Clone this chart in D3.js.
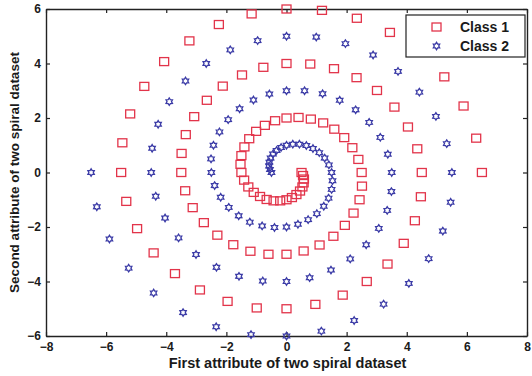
<!DOCTYPE html>
<html>
<head>
<meta charset="utf-8">
<script src="https://cdn.jsdelivr.net/npm/d3@7"></script>
<style>
  body { margin: 0; background: #fff; }
  text { font-family: "Liberation Sans", Arial, sans-serif; font-weight: bold; fill: #1a1a1a; }
</style>
</head>
<body>
<div class="chart"></div>
<script>
// two spiral dataset
var class1X = [6.50, 6.31, 5.89, 5.25, 4.42, 3.44, 2.34, 1.18,
  0.00, -1.16, -2.25, -3.23, -4.07, -4.73, -5.20, -5.46,
  -5.50, -5.33, -4.97, -4.42, -3.71, -2.88, -1.96, -0.99,
  0.00, 0.96, 1.87, 2.67, 3.36, 3.90, 4.27, 4.47,
  4.50, 4.35, 4.04, 3.59, 3.01, 2.33, 1.58, 0.79,
  0.00, -0.77, -1.48, -2.12, -2.65, -3.07, -3.35, -3.49,
  -3.50, -3.37, -3.12, -2.75, -2.30, -1.77, -1.20, -0.60,
  0.00, 0.57, 1.10, 1.56, 1.94, 2.23, 2.43, 2.51,
  2.50, 2.39, 2.19, 1.92, 1.59, 1.22, 0.81, 0.40,
  0.00, -0.38, -0.72, -1.01, -1.24, -1.40, -1.50, -1.53,
  -1.50, -1.41, -1.27, -1.09, -0.88, -0.66, -0.43, -0.21,
  0.00, 0.18, 0.33, 0.45, 0.53, 0.57, 0.58, 0.55,
  0.50];
var class1Y = [0.00, 1.26, 2.44, 3.51, 4.42, 5.14, 5.66, 5.95,
  6.00, 5.82, 5.43, 4.83, 4.07, 3.16, 2.15, 1.09,
  0.00, -1.06, -2.06, -2.95, -3.71, -4.31, -4.73, -4.97,
  -5.00, -4.84, -4.50, -4.00, -3.36, -2.60, -1.77, -0.89,
  0.00, 0.87, 1.67, 2.40, 3.01, 3.48, 3.81, 3.98,
  4.00, 3.86, 3.58, 3.17, 2.65, 2.05, 1.39, 0.70,
  0.00, -0.67, -1.29, -1.84, -2.30, -2.65, -2.89, -3.00,
  -3.00, -2.88, -2.66, -2.34, -1.94, -1.49, -1.00, -0.50,
  0.00, 0.48, 0.91, 1.28, 1.59, 1.82, 1.96, 2.02,
  2.00, 1.90, 1.73, 1.51, 1.24, 0.94, 0.62, 0.30,
  0.00, -0.28, -0.53, -0.73, -0.88, -0.99, -1.04, -1.04,
  -1.00, -0.92, -0.81, -0.68, -0.53, -0.38, -0.24, -0.11,
  0.00];
var class2X = [-6.50, -6.31, -5.89, -5.25, -4.42, -3.44, -2.34, -1.18,
  0.00, 1.16, 2.25, 3.23, 4.07, 4.73, 5.20, 5.46,
  5.50, 5.33, 4.97, 4.42, 3.71, 2.88, 1.96, 0.99,
  0.00, -0.96, -1.87, -2.67, -3.36, -3.90, -4.27, -4.47,
  -4.50, -4.35, -4.04, -3.59, -3.01, -2.33, -1.58, -0.79,
  0.00, 0.77, 1.48, 2.12, 2.65, 3.07, 3.35, 3.49,
  3.50, 3.37, 3.12, 2.75, 2.30, 1.77, 1.20, 0.60,
  0.00, -0.57, -1.10, -1.56, -1.94, -2.23, -2.43, -2.51,
  -2.50, -2.39, -2.19, -1.92, -1.59, -1.22, -0.81, -0.40,
  0.00, 0.38, 0.72, 1.01, 1.24, 1.40, 1.50, 1.53,
  1.50, 1.41, 1.27, 1.09, 0.88, 0.66, 0.43, 0.21,
  0.00, -0.18, -0.33, -0.45, -0.53, -0.57, -0.58, -0.55,
  -0.50];
var class2Y = [0.00, -1.26, -2.44, -3.51, -4.42, -5.14, -5.66, -5.95,
  -6.00, -5.82, -5.43, -4.83, -4.07, -3.16, -2.15, -1.09,
  0.00, 1.06, 2.06, 2.95, 3.71, 4.31, 4.73, 4.97,
  5.00, 4.84, 4.50, 4.00, 3.36, 2.60, 1.77, 0.89,
  0.00, -0.87, -1.67, -2.40, -3.01, -3.48, -3.81, -3.98,
  -4.00, -3.86, -3.58, -3.17, -2.65, -2.05, -1.39, -0.70,
  0.00, 0.67, 1.29, 1.84, 2.30, 2.65, 2.89, 3.00,
  3.00, 2.88, 2.66, 2.34, 1.94, 1.49, 1.00, 0.50,
  0.00, -0.48, -0.91, -1.28, -1.59, -1.82, -1.96, -2.02,
  -2.00, -1.90, -1.73, -1.51, -1.24, -0.94, -0.62, -0.30,
  0.00, 0.28, 0.53, 0.73, 0.88, 0.99, 1.04, 1.04,
  1.00, 0.92, 0.81, 0.68, 0.53, 0.38, 0.24, 0.11,
  0.00];

var xTicks = [-8, -6, -4, -2, 0, 2, 4, 6, 8];
var yTicks = [-6, -4, -2, 0, 2, 4, 6];
var seriesNames = ["Class 1", "Class 2"];

var svgWidth = 532;
var svgHeight = 376;
var margin = { top: 9, right: 5, bottom: 40, left: 46 };
var width = svgWidth - margin.left - margin.right;
var height = svgHeight - margin.top - margin.bottom;

var red = "#e2344a";
var blue = "#3a3aa6";

var svg = d3.select(".chart")
  .append("svg")
  .attr("width", svgWidth)
  .attr("height", svgHeight);

var chartGroup = svg.append("g")
  .attr("transform", `translate(${margin.left}, ${margin.top})`);

var xScale = d3.scaleLinear().domain([-8, 8]).range([0, width]);
var yScale = d3.scaleLinear().domain([-6, 6]).range([height, 0]);

// axes, matlab style box with inward ticks
function styleAxis(g) {
  g.selectAll("path").attr("stroke", "#222").attr("stroke-width", 1.4);
  g.selectAll("line").attr("stroke", "#222").attr("stroke-width", 1.2);
  g.selectAll("text").style("font-size", "12px").attr("fill", "#1a1a1a");
}

chartGroup.append("g")
  .attr("transform", `translate(0, ${height})`)
  .call(d3.axisBottom(xScale).tickValues(xTicks).tickSizeInner(-4).tickSizeOuter(0).tickPadding(6))
  .call(styleAxis);

chartGroup.append("g")
  .call(d3.axisTop(xScale).tickValues(xTicks).tickSizeInner(-4).tickSizeOuter(0).tickFormat(""))
  .call(styleAxis);

chartGroup.append("g")
  .call(d3.axisLeft(yScale).tickValues(yTicks).tickSizeInner(-4).tickSizeOuter(0).tickPadding(5))
  .call(styleAxis);

chartGroup.append("g")
  .attr("transform", `translate(${width}, 0)`)
  .call(d3.axisRight(yScale).tickValues(yTicks).tickSizeInner(-4).tickSizeOuter(0).tickFormat(""))
  .call(styleAxis);

// markers
function hexagram(r) {
  var pts = [];
  for (var k = 0; k < 12; k++) {
    var a = Math.PI / 2 + k * Math.PI / 6;
    var rr = k % 2 === 0 ? r : r * 0.6;
    pts.push([rr * Math.cos(a), -rr * Math.sin(a)]);
  }
  return "M" + pts.map(p => p[0].toFixed(2) + "," + p[1].toFixed(2)).join("L") + "Z";
}
var starPath = hexagram(3.7);

var class1 = class1X.map((x, i) => ({ x: x, y: class1Y[i] }));
var class2 = class2X.map((x, i) => ({ x: x, y: class2Y[i] }));

chartGroup.selectAll(".sq")
  .data(class1)
  .enter()
  .append("rect")
  .attr("class", "sq")
  .attr("x", d => xScale(d.x) - 4.5)
  .attr("y", d => yScale(d.y) - 4)
  .attr("width", 9)
  .attr("height", 8)
  .attr("fill", "none")
  .attr("stroke", red)
  .attr("stroke-width", 1.3);

chartGroup.selectAll(".star")
  .data(class2)
  .enter()
  .append("path")
  .attr("class", "star")
  .attr("transform", d => `translate(${xScale(d.x)}, ${yScale(d.y)})`)
  .attr("d", starPath)
  .attr("fill", "none")
  .attr("stroke", blue)
  .attr("stroke-width", 1.3);

// legend
var legend = svg.append("g").attr("transform", "translate(406, 15)");
legend.append("rect")
  .attr("width", 119)
  .attr("height", 42)
  .attr("fill", "#fff")
  .attr("stroke", "#222")
  .attr("stroke-width", 1.2);
legend.append("rect")
  .attr("x", 26).attr("y", 8).attr("width", 9).attr("height", 8)
  .attr("fill", "none").attr("stroke", red).attr("stroke-width", 1.3);
legend.append("path")
  .attr("transform", "translate(30.5, 31)")
  .attr("d", starPath)
  .attr("fill", "none").attr("stroke", blue).attr("stroke-width", 1.3);
legend.selectAll(".lab")
  .data(seriesNames)
  .enter()
  .append("text")
  .attr("class", "lab")
  .attr("x", 54)
  .attr("y", (d, i) => 17 + i * 19)
  .style("font-size", "14px")
  .text(d => d);

// axis titles
svg.append("text")
  .attr("x", margin.left + width / 2 + 1)
  .attr("y", 368)
  .attr("text-anchor", "middle")
  .style("font-size", "14.5px")
  .text("First attribute of two spiral dataset");

svg.append("text")
  .attr("transform", "rotate(-90)")
  .attr("x", -(margin.top + height / 2))
  .attr("y", 19)
  .attr("text-anchor", "middle")
  .style("font-size", "13.5px")
  .text("Second attribute of two spiral dataset");
</script>
</body>
</html>
